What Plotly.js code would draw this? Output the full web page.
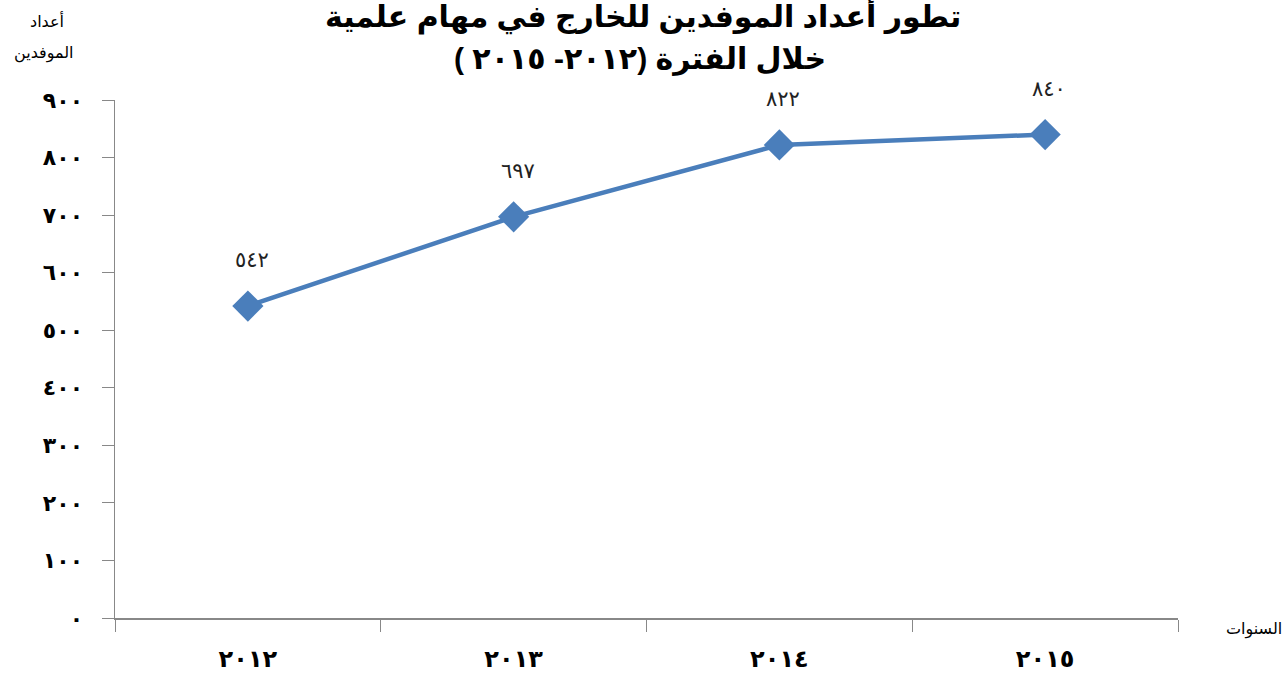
<!DOCTYPE html>
<html><head><meta charset="utf-8">
<script src="https://cdn.plot.ly/plotly-3.0.1.min.js"></script>
<style>body{margin:0;background:#fff}#chart{width:1288px;height:675px}</style>
</head><body><div id="chart"></div>
<script>
var categories = ["2012", "2013", "2014", "2015"];
var categoryLabels = ["٢٠١٢", "٢٠١٣", "٢٠١٤", "٢٠١٥"];
var values = [542, 697, 822, 840];
var valueLabels = ["٥٤٢", "٦٩٧", "٨٢٢", "٨٤٠"];
var yTickVals = [0, 100, 200, 300, 400, 500, 600, 700, 800, 900];
var yTickText = ["٠", "١٠٠", "٢٠٠", "٣٠٠", "٤٠٠", "٥٠٠", "٦٠٠", "٧٠٠", "٨٠٠", "٩٠٠"];
var titleLine1 = "تطور أعداد الموفدين للخارج في مهام علمية";
var titleLine2 = "خلال الفترة (٢٠١٢- ٢٠١٥ )";
var yTitleLine1 = "أعداد";
var yTitleLine2 = "الموفدين";
var xTitle = "السنوات";

var fontFam = "Liberation Sans, DejaVu Sans, Arial, sans-serif";

var trace = {
  x: categories.map(function(c, i){ return i; }), y: values, type: "scatter", mode: "lines+markers",
  line: {color: "#4A7EBB", width: 4.5},
  marker: {symbol: "diamond", size: 24, color: "#4A7EBB"},
  hoverinfo: "none"
};

var annotations = values.map(function(v, i){
  return {x: i, y: v, xref: "x", yref: "y", text: valueLabels[i], showarrow: false,
    xshift: 4, yshift: 46, font: {family: "DejaVu Serif, DejaVu Sans, serif", size: 21, color: "#222"}};
});
function note(x, y, text, size, bold, xanchor){
  annotations.push({xref: "paper", yref: "paper", x: x, y: y, xanchor: xanchor || "center", yanchor: "middle",
    text: bold ? "<b>" + text + "</b>" : text, showarrow: false,
    font: {family: fontFam, size: size, color: "#000"}});
}
// paper: x from 115 to 1178 px (1063 px); y from 618 to 100 px (518 px)
function px(X){ return (X - 115) / 1063; }
function py(Y){ return (618 - Y) / 518; }
note(px(643), py(16), titleLine1, 30, true);
note(px(640), py(59), titleLine2, 30, true);
note(px(47), py(20), yTitleLine1, 16, false);
note(px(44), py(53), yTitleLine2, 16, false);
note(px(1284), py(629), xTitle, 16, false, "right");

var layout = {
  width: 1288, height: 675,
  margin: {l: 115, r: 110, t: 100, b: 57},
  paper_bgcolor: "#fff", plot_bgcolor: "#fff",
  showlegend: false,
  xaxis: {type: "linear", range: [-0.5, 3.5], tickvals: [-0.5, 0.5, 1.5, 2.5, 3.5], ticks: "outside", ticklen: 12,
    tickcolor: "#888", showline: true, linecolor: "#888", linewidth: 1.5, showgrid: false, zeroline: false,
    showticklabels: false},
  xaxis2: {overlaying: "x", matches: "x", range: [-0.5, 3.5], tickvals: [0, 1, 2, 3],
    ticktext: categoryLabels.map(function(s){return "<b>"+s+"</b>";}), ticks: "", side: "bottom",
    showline: false, showgrid: false, zeroline: false, ticklabelstandoff: 24,
    tickfont: {family: fontFam, size: 24, color: "#000"}},
  yaxis: {range: [0, 900], tickvals: yTickVals, ticktext: yTickText.map(function(s){return "<b>"+s+"</b>";}),
    ticks: "outside", ticklen: 12, tickcolor: "#888", showline: true, linecolor: "#888", linewidth: 1.5,
    showgrid: false, zeroline: false, ticklabelstandoff: 14,
    tickfont: {family: fontFam, size: 22, color: "#000"}},
  annotations: annotations
};
var dummy = {x: [0], y: [0], xaxis: "x2", yaxis: "y", mode: "markers", marker: {opacity: 0}, hoverinfo: "none"};
Plotly.newPlot("chart", [trace, dummy], layout, {displayModeBar: false, staticPlot: true});
</script></body></html>
